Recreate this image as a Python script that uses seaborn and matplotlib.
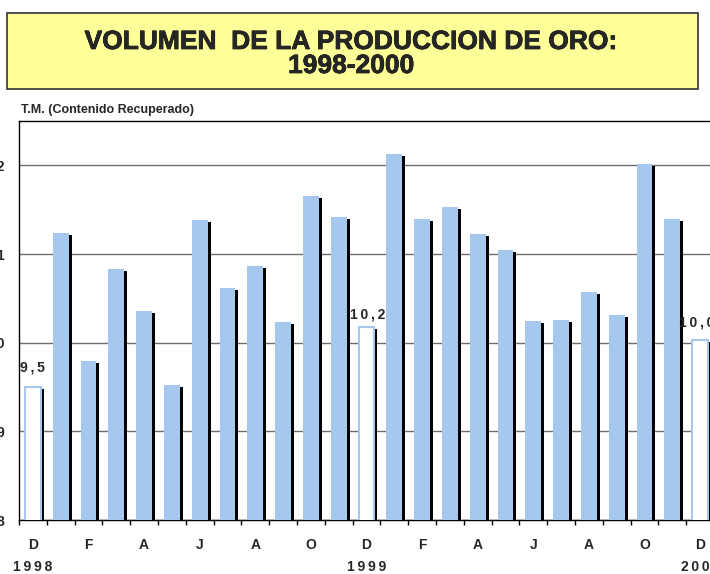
import numpy as np
import pandas as pd
import matplotlib
matplotlib.use("Agg")
import matplotlib.pyplot as plt
import matplotlib.patheffects as pe
from matplotlib.patches import Rectangle
import seaborn as sns

# ---- data ----
months = ["D", "E", "F", "M", "A", "M", "J", "J", "A", "S", "O", "N",
          "D", "E", "F", "M", "A", "M", "J", "J", "A", "S", "O", "N", "D"]
values = [9.50, 11.24, 9.79, 10.83, 10.36, 9.52, 11.38, 10.62, 10.86, 10.23, 11.65, 11.42,
          10.18, 12.13, 11.39, 11.53, 11.23, 11.04, 10.24, 10.26, 10.57, 10.31, 12.02, 11.40,
          10.03]
highlight = [0, 12, 24]
highlight_labels = ["9,5", "10,2", "10,0"]
tick_labels = ["D", "F", "A", "J", "A", "O", "D", "F", "A", "J", "A", "O", "D"]
years = ["1998", "1999", "2000"]
yticks = [8, 9, 10, 11, 12]

title_line1 = "VOLUMEN  DE LA PRODUCCION DE ORO:"
title_line2 = "1998-2000"
ylabel = "T.M. (Contenido Recuperado)"

sns.set_theme(style="white")
plt.rcParams["font.family"] = ["Liberation Sans", "DejaVu Sans"]

THIN = "\u2009"


def spaced(s):
    return THIN.join(list(s))


W, H = 710, 574
fig = plt.figure(figsize=(W / 100, H / 100), dpi=100)

ax_left, ax_right, ax_top, ax_bot = 19, 714, 121, 520
ax = fig.add_axes([ax_left / W, 1 - ax_bot / H, (ax_right - ax_left) / W, (ax_bot - ax_top) / H])

n = len(values)
df = pd.DataFrame({"pos": np.arange(n), "val": values})
blue = "#A6C8EE"
barw = 0.575
px_unit_x = (ax_right - ax_left) / n
px_unit_y = (ax_bot - ax_top) / 4.5
dx = 3 / px_unit_x
dy = 2 / px_unit_y

# shadow bars
df_sh = df.assign(val=df["val"] - dy)
sns.barplot(data=df_sh, x="pos", y="val", color="black", width=barw, ax=ax,
            saturation=1, zorder=2)
for p in ax.patches:
    p.set_x(p.get_x() + dx)
    p.set_edgecolor("none")
n_sh = len(ax.patches)

# main bars
colors = ["white" if i in highlight else blue for i in range(n)]
sns.barplot(data=df, x="pos", y="val", hue="pos", palette=colors, width=barw, ax=ax,
            saturation=1, legend=False, zorder=3, dodge=False)
for p in ax.patches[n_sh:]:
    idx = int(round(p.get_x() + p.get_width() / 2))
    if idx in highlight:
        p.set_facecolor("white")
        p.set_edgecolor(blue)
        p.set_linewidth(1.5)
    else:
        p.set_facecolor(blue)
        p.set_edgecolor("none")

ax.set_ylim(8, 12.5)
ax.set_xlim(-0.5, n - 0.5)
ax.set_yticks(yticks)
ax.set_yticklabels([str(t) for t in yticks], fontweight="bold", fontsize=10)
ax.yaxis.grid(True, color="#6E6E6E", linewidth=1)
ax.set_axisbelow(True)
ax.tick_params(axis="y", length=0, pad=10.5, left=False)

# x ticks: marks at boundaries, labels at every other category
ax.set_xticks(np.arange(-0.5, n, 1.0))
ax.set_xticklabels([])
ax.tick_params(axis="x", which="major", length=3.5, width=1, color="black", bottom=True, direction="out")
ax.set_xticks(np.arange(0, n, 2), minor=True)
ax.set_xticklabels(tick_labels, minor=True, fontweight="bold", fontsize=10)
ax.tick_params(axis="x", which="minor", length=0, pad=13)
ax.set_xlabel("")
ax.set_ylabel("")

for s in ax.spines.values():
    s.set_color("black")
    s.set_linewidth(1)

# year labels
trans = ax.get_xaxis_transform()
for yi, yr in enumerate(years):
    ax.text(yi * 12, -47 / (ax_bot - ax_top), spaced(yr), transform=trans, ha="center", va="center",
            fontsize=10, fontweight="bold")

# value labels on highlighted bars (gap above bar in px, horizontal nudge in px)
label_gap_px = {0: 13, 12: 5, 24: 11}
label_dx_px = {0: 0, 12: 1, 24: -3}
for idx, lab in zip(highlight, highlight_labels):
    ax.text(idx + label_dx_px[idx] / px_unit_x, values[idx] + label_gap_px[idx] / px_unit_y,
            spaced(lab), ha="center", va="bottom", fontsize=10, fontweight="bold", zorder=5)

# title box
fig.patches.append(Rectangle((7 / W, 1 - 89 / H), (698 - 7) / W, (89 - 13) / H,
                             transform=fig.transFigure, facecolor="#FFFF99",
                             edgecolor="#333333", linewidth=1.2, zorder=0))
heavy = [pe.withStroke(linewidth=0.5, foreground="black")]
fig.text(351 / W, 1 - 49 / H, title_line1, ha="center", va="baseline", fontsize=19,
         fontweight="bold", path_effects=heavy)
fig.text(351 / W, 1 - 73 / H, title_line2, ha="center", va="baseline", fontsize=19,
         fontweight="bold", path_effects=heavy)
fig.text(21 / W, 1 - 110 / H, ylabel, ha="left", va="center", fontsize=9, fontweight="bold")

fig.savefig("out.png", dpi=100)
